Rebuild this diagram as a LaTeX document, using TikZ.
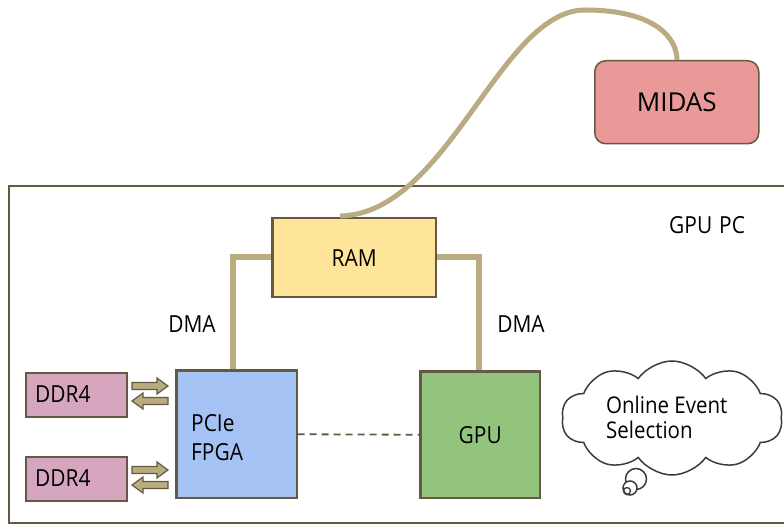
\documentclass[tikz,border=0pt]{standalone}
\usepackage{fontspec}
\setmainfont{Open Sans}
\newfontfamily\condfont[FakeStretch=0.89]{Open Sans}
\usetikzlibrary{shapes.symbols}
\definecolor{edge}{RGB}{102,89,66}
\definecolor{tan}{RGB}{184,172,128}
\definecolor{ramfill}{RGB}{255,229,153}
\definecolor{midasfill}{RGB}{234,153,153}
\definecolor{fpgafill}{RGB}{164,194,244}
\definecolor{gpufill}{RGB}{147,196,125}
\definecolor{ddrfill}{RGB}{213,166,189}
\definecolor{cloudline}{RGB}{60,60,60}
\tikzset{
  boxnode/.style={draw=edge, line width=1.5pt, anchor=north west, inner sep=0pt, font=\condfont\fontsize{23.5}{29}\selectfont},
  link/.style={draw=tan, line width=6pt},
  blockarrow/.style={fill=tan, draw=edge, line width=1.2pt, line join=miter},
  lbl/.style={font=\condfont\fontsize{23.5}{25}\selectfont, inner sep=0pt},
}
\begin{document}
\begin{tikzpicture}[x=1pt,y=-1pt]
\useasboundingbox (0,0) rectangle (784,526);
% outer GPU PC box
\draw[edge, line width=1.5pt] (9,186) rectangle (800,523);
\node[lbl, anchor=base west] (gpupc) at (669,234) {GPU\hspace{1.5pt} PC};
% nodes
\node[boxnode, fill=ramfill, minimum width=163pt, minimum height=78pt] (ram) at (272,218) {RAM};
\node[boxnode, fill=midasfill, rounded corners=11pt, minimum width=164pt, minimum height=83pt, font=\fontsize{26}{30}\selectfont] (midas) at (594,60) {MIDAS};
\node[boxnode, fill=fpgafill, minimum width=120pt, minimum height=127pt] (fpga) at (176,370) {};
\node[lbl, anchor=base west] (fpgatxt) at (191,431) {PCIe};
\node[lbl, anchor=base west] (fpgatxt2) at (191,460) {FPGA};
\node[boxnode, fill=gpufill, minimum width=119pt, minimum height=126pt] (gpu) at (420,371) {GPU};
\node[boxnode, fill=ddrfill, minimum width=101pt, minimum height=44pt] (ddra) at (25,372) {};
\node[boxnode, fill=ddrfill, minimum width=101pt, minimum height=44pt] (ddrb) at (25,456) {};
\node[lbl, anchor=base west] (ddratxt) at (35,402) {DDR4};
\node[lbl, anchor=base west] (ddrbtxt) at (35,486) {DDR4};
% connectors RAM - FPGA / GPU
\draw[link] (ram.west |- 0,257) -- (233,257) -- (233,370);
\draw[link] (ram.east |- 0,257) -- (479,257) -- (479,371);
\node[lbl, anchor=base] (dmal) at (192,333) {DMA};
\node[lbl, anchor=base] (dmar) at (521,333) {DMA};
% redraw box borders over connector ends
\draw[edge, line width=1.5pt] (ram.north west) rectangle (ram.south east);
\draw[edge, line width=1.5pt] (fpga.north west) rectangle (fpga.south east);
\draw[edge, line width=1.5pt] (gpu.north west) rectangle (gpu.south east);
% RAM - MIDAS cable
\coordinate (c0) at (340,216);
\coordinate (cpk) at (585,10);
\draw[tan, line width=5pt] (c0) .. controls (448,214) and (500,10) .. (cpk)
   .. controls (655,10) and (677,38) .. (midas.north -| 677,0);
% FPGA - GPU dashed
\draw[edge, line width=1.8pt, dash pattern=on 7pt off 5pt] (fpga.east) -- (gpu.west);
% block arrows
\foreach \yy in {386,470}{
  \draw[blockarrow] (132,\yy-3.5) -- (157,\yy-3.5) -- (157,\yy-8) -- (168,\yy) -- (157,\yy+8) -- (157,\yy+3.5) -- (132,\yy+3.5) -- cycle;
  \draw[blockarrow] (168,\yy+15-3.5) -- (143,\yy+15-3.5) -- (143,\yy+15-8) -- (132,\yy+15) -- (143,\yy+15+8) -- (143,\yy+15+3.5) -- (168,\yy+15+3.5) -- cycle;
}
% thought bubbles
\draw[cloudline, line width=1.5pt, fill=white] (636,479) circle (10.5);
\draw[cloudline, line width=1.5pt, fill=white] (630,488) circle (7);
\draw[cloudline, line width=1.3pt] (627,491) circle (3.5);
% cloud
\node[cloud, cloud puffs=10, cloud puff arc=110, aspect=1.9, draw=cloudline, line width=1.5pt, fill=white,
      minimum width=221pt, minimum height=114pt, inner sep=0pt] (cloud) at (672,418) {};
\node[lbl, anchor=base west, align=left, font=\condfont\fontsize{23}{25}\selectfont] (cloudtxt) at (606,413) {Online Event};
\node[lbl, anchor=base west, align=left, font=\condfont\fontsize{23}{25}\selectfont] (cloudtxt2) at (606,438) {Selection};
\end{tikzpicture}
\end{document}
